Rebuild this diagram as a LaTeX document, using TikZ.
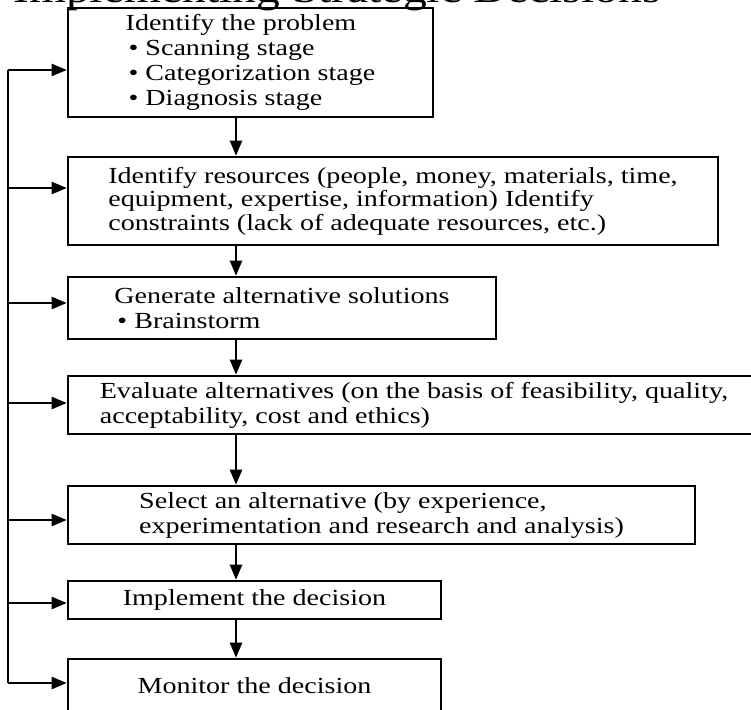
\documentclass[tikz,border=0pt]{standalone}
\usepackage{fontspec}
\setmainfont{Liberation Serif}[FakeStretch=1.22]
\usetikzlibrary{arrows.meta, positioning, calc}

\begin{document}
\begin{tikzpicture}[
  x=1pt, y=-1pt,
  every node/.style={font=\fontsize{23}{25}\selectfont, align=left, inner sep=0pt},
  stepbox/.style={draw, line width=2.6pt},
  arr/.style={-{Triangle[length=15pt, width=12pt]}, line width=2.3pt},
  fbline/.style={line width=2.3pt},
]
  \useasboundingbox (0,0) rectangle (751,709);
  \clip (0,0) rectangle (751,709);

  % Title, cut off by the top edge
  \node[anchor=base west, font=\fontsize{39}{43}\selectfont] (title) at (13,3) {Implementing Strategic Decisions};

  % Steps
  \node[stepbox, minimum width=365pt, minimum height=109pt] (b1) at (250.5,62.5)
    {Identify the problem\\\hspace{3pt}\textbullet\ Scanning stage\\\hspace{3pt}\textbullet\ Categorization stage\\\hspace{3pt}\textbullet\ Diagnosis stage};
  \node[stepbox, minimum width=650pt, minimum height=88pt, font=\fontsize{23}{23.5}\selectfont] (b2) at (393,201)
    {Identify resources (people, money, materials, time,\\equipment, expertise, information) Identify\\constraints (lack of adequate resources, etc.)};
  \node[stepbox, minimum width=428pt, minimum height=62pt] (b3) at (282,308)
    {Generate alternative solutions\\\hspace{3pt}\textbullet\ Brainstorm};
  \node[stepbox, minimum width=692pt, minimum height=58pt] (b4) at (414,405)
    {Evaluate alternatives (on the basis of feasibility, quality,\\acceptability, cost and ethics)};
  \node[stepbox, minimum width=627pt, minimum height=58pt] (b5) at (381.5,515)
    {Select an alternative (by experience,\\experimentation and research and analysis)};
  \node[stepbox, minimum width=373pt, minimum height=38pt] (b6) at (254.5,600)
    {Implement the decision};
  \node[stepbox, minimum width=373pt, minimum height=54pt] (b7) at (254.5,686)
    {Monitor the decision};

  % Down arrows
  \coordinate (ax) at (236,0);
  \draw[arr] (b1.south -| ax) -- (b2.north -| ax);
  \draw[arr] (b2.south -| ax) -- (b3.north -| ax);
  \draw[arr] (b3.south -| ax) -- (b4.north -| ax);
  \draw[arr] (b4.south -| ax) -- (b5.north -| ax);
  \draw[arr] (b5.south -| ax) -- (b6.north -| ax);
  \draw[arr] (b6.south -| ax) -- (b7.north -| ax);

  % Feedback line on the left
  \foreach \n/\y in {b1/70, b2/188, b3/303, b4/403, b5/520, b6/603, b7/683} {
    \coordinate (f\n) at (8,\y);
    \draw[arr] (f\n) -- (f\n -| \n.west);
  }
  \draw[fbline] (fb1) -- (fb7);

\end{tikzpicture}
\end{document}
